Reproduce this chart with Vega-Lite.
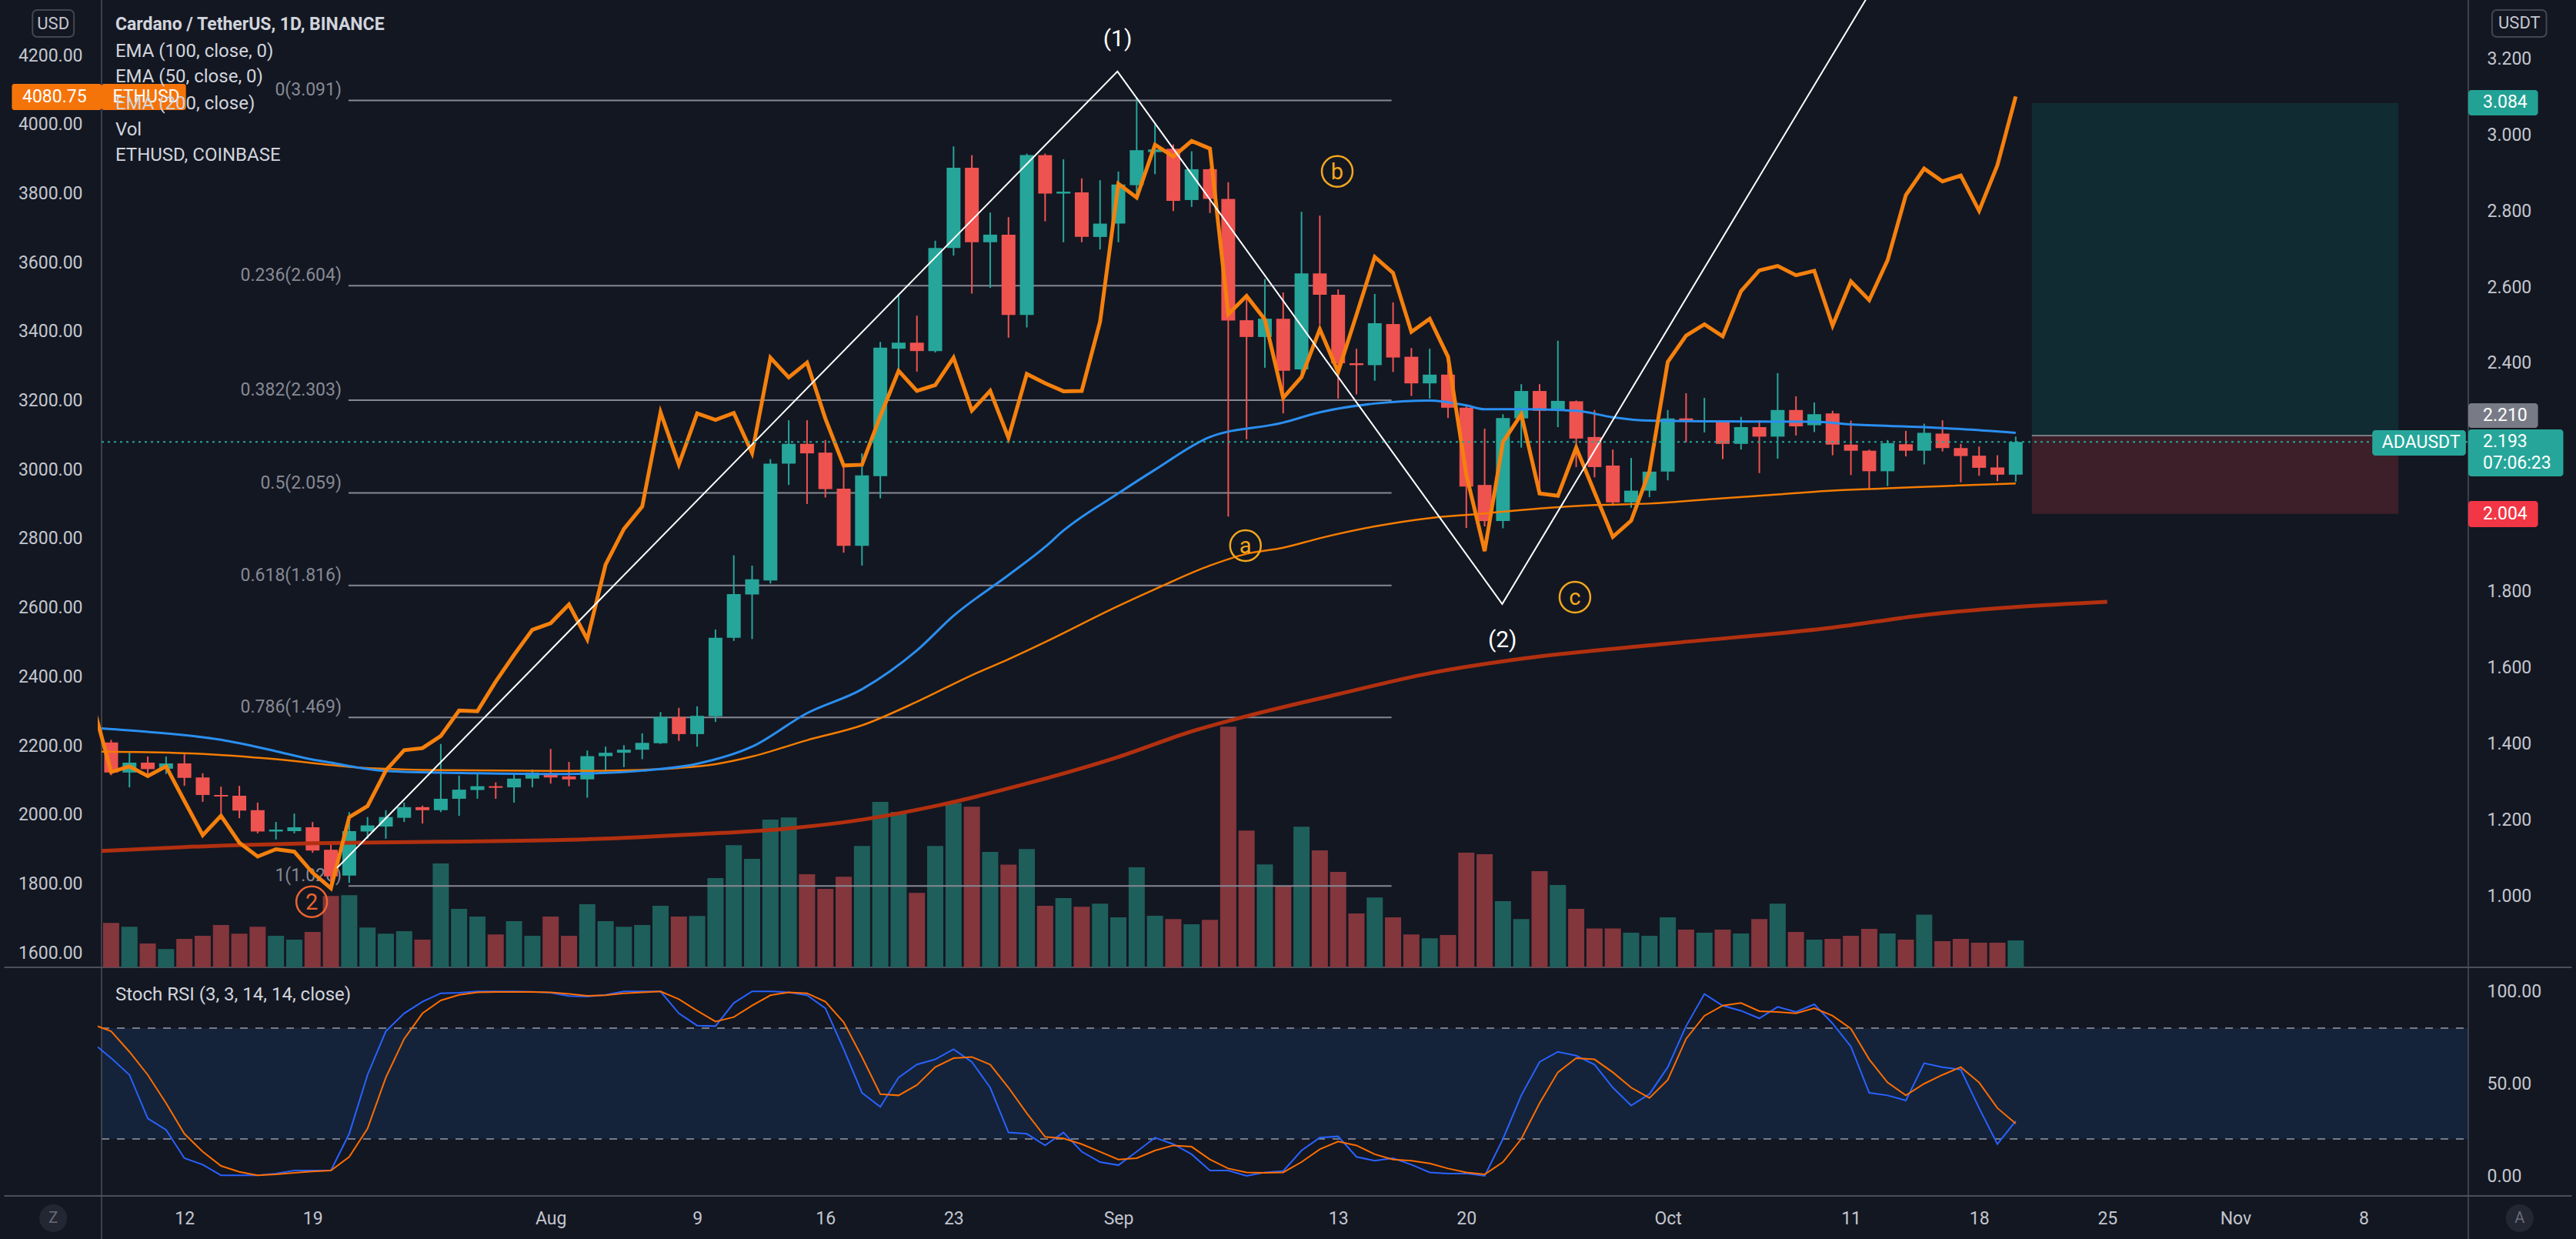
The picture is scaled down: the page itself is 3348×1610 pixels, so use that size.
{
"$schema":"https://vega.github.io/schema/vega-lite/v6.json",
"width":3086,"height":1554,
"autosize":{"type":"none"},
"padding":{"left":127,"top":0,"right":135,"bottom":56},
"background":"#131722",
"config":{"view":{"stroke":null},"font":"Roboto","text":{"font":"Roboto"},"axis":{"labelFont":"Roboto"}},
"datasets":{
"ada":[
{"date":"2021-07-08","o":1.403,"h":1.410,"l":1.317,"c":1.324,"v":289},
{"date":"2021-07-09","o":1.324,"h":1.376,"l":1.285,"c":1.350,"v":264},
{"date":"2021-07-10","o":1.350,"h":1.366,"l":1.318,"c":1.333,"v":155},
{"date":"2021-07-11","o":1.334,"h":1.366,"l":1.320,"c":1.348,"v":119},
{"date":"2021-07-12","o":1.348,"h":1.372,"l":1.289,"c":1.310,"v":185},
{"date":"2021-07-13","o":1.311,"h":1.322,"l":1.247,"c":1.265,"v":205},
{"date":"2021-07-14","o":1.265,"h":1.287,"l":1.216,"c":1.261,"v":275},
{"date":"2021-07-15","o":1.263,"h":1.289,"l":1.204,"c":1.224,"v":219},
{"date":"2021-07-16","o":1.225,"h":1.245,"l":1.164,"c":1.169,"v":264},
{"date":"2021-07-17","o":1.169,"h":1.194,"l":1.148,"c":1.174,"v":205},
{"date":"2021-07-18","o":1.170,"h":1.216,"l":1.164,"c":1.180,"v":180},
{"date":"2021-07-19","o":1.180,"h":1.194,"l":1.113,"c":1.119,"v":230},
{"date":"2021-07-20","o":1.121,"h":1.136,"l":1.026,"c":1.051,"v":464},
{"date":"2021-07-21","o":1.053,"h":1.220,"l":1.034,"c":1.170,"v":469},
{"date":"2021-07-22","o":1.169,"h":1.207,"l":1.150,"c":1.185,"v":259},
{"date":"2021-07-23","o":1.182,"h":1.225,"l":1.150,"c":1.207,"v":219},
{"date":"2021-07-24","o":1.205,"h":1.245,"l":1.194,"c":1.233,"v":235},
{"date":"2021-07-25","o":1.233,"h":1.237,"l":1.190,"c":1.225,"v":180},
{"date":"2021-07-26","o":1.225,"h":1.399,"l":1.220,"c":1.255,"v":675},
{"date":"2021-07-27","o":1.255,"h":1.316,"l":1.210,"c":1.279,"v":380},
{"date":"2021-07-28","o":1.278,"h":1.322,"l":1.255,"c":1.288,"v":330},
{"date":"2021-07-29","o":1.288,"h":1.298,"l":1.255,"c":1.284,"v":214},
{"date":"2021-07-30","o":1.285,"h":1.318,"l":1.245,"c":1.308,"v":300},
{"date":"2021-07-31","o":1.308,"h":1.332,"l":1.285,"c":1.324,"v":205},
{"date":"2021-08-01","o":1.322,"h":1.386,"l":1.295,"c":1.311,"v":330},
{"date":"2021-08-02","o":1.314,"h":1.352,"l":1.288,"c":1.306,"v":205},
{"date":"2021-08-03","o":1.306,"h":1.382,"l":1.258,"c":1.367,"v":410},
{"date":"2021-08-04","o":1.367,"h":1.392,"l":1.322,"c":1.376,"v":300},
{"date":"2021-08-05","o":1.376,"h":1.396,"l":1.338,"c":1.384,"v":264},
{"date":"2021-08-06","o":1.384,"h":1.427,"l":1.359,"c":1.402,"v":275},
{"date":"2021-08-07","o":1.401,"h":1.483,"l":1.399,"c":1.470,"v":400},
{"date":"2021-08-08","o":1.470,"h":1.494,"l":1.407,"c":1.425,"v":330},
{"date":"2021-08-09","o":1.425,"h":1.498,"l":1.392,"c":1.473,"v":334},
{"date":"2021-08-10","o":1.472,"h":1.700,"l":1.457,"c":1.678,"v":580},
{"date":"2021-08-11","o":1.678,"h":1.895,"l":1.670,"c":1.793,"v":794},
{"date":"2021-08-12","o":1.792,"h":1.868,"l":1.675,"c":1.832,"v":705},
{"date":"2021-08-13","o":1.829,"h":2.148,"l":1.821,"c":2.136,"v":960},
{"date":"2021-08-14","o":2.136,"h":2.250,"l":2.080,"c":2.188,"v":974},
{"date":"2021-08-15","o":2.188,"h":2.250,"l":2.030,"c":2.163,"v":605},
{"date":"2021-08-16","o":2.165,"h":2.198,"l":2.047,"c":2.069,"v":510},
{"date":"2021-08-17","o":2.070,"h":2.127,"l":1.902,"c":1.920,"v":589},
{"date":"2021-08-18","o":1.920,"h":2.163,"l":1.868,"c":2.105,"v":789},
{"date":"2021-08-19","o":2.103,"h":2.456,"l":2.045,"c":2.441,"v":1075},
{"date":"2021-08-20","o":2.438,"h":2.583,"l":2.378,"c":2.454,"v":1010},
{"date":"2021-08-21","o":2.454,"h":2.525,"l":2.378,"c":2.432,"v":484},
{"date":"2021-08-22","o":2.432,"h":2.722,"l":2.428,"c":2.703,"v":789},
{"date":"2021-08-23","o":2.703,"h":2.970,"l":2.683,"c":2.914,"v":1067},
{"date":"2021-08-24","o":2.914,"h":2.947,"l":2.583,"c":2.718,"v":1044},
{"date":"2021-08-25","o":2.718,"h":2.796,"l":2.598,"c":2.738,"v":750},
{"date":"2021-08-26","o":2.738,"h":2.784,"l":2.467,"c":2.527,"v":667},
{"date":"2021-08-27","o":2.527,"h":2.951,"l":2.494,"c":2.947,"v":769},
{"date":"2021-08-28","o":2.947,"h":2.951,"l":2.773,"c":2.846,"v":400},
{"date":"2021-08-29","o":2.846,"h":2.936,"l":2.718,"c":2.851,"v":450},
{"date":"2021-08-30","o":2.849,"h":2.886,"l":2.718,"c":2.732,"v":394},
{"date":"2021-08-31","o":2.732,"h":2.881,"l":2.699,"c":2.767,"v":414},
{"date":"2021-09-01","o":2.767,"h":2.904,"l":2.718,"c":2.870,"v":325},
{"date":"2021-09-02","o":2.868,"h":3.098,"l":2.839,"c":2.960,"v":650},
{"date":"2021-09-03","o":2.955,"h":3.030,"l":2.897,"c":2.962,"v":335},
{"date":"2021-09-04","o":2.964,"h":2.975,"l":2.800,"c":2.827,"v":314},
{"date":"2021-09-05","o":2.829,"h":2.957,"l":2.811,"c":2.910,"v":280},
{"date":"2021-09-06","o":2.910,"h":2.912,"l":2.795,"c":2.832,"v":309},
{"date":"2021-09-07","o":2.832,"h":2.876,"l":1.997,"c":2.512,"v":1564},
{"date":"2021-09-08","o":2.513,"h":2.576,"l":2.200,"c":2.469,"v":889},
{"date":"2021-09-09","o":2.469,"h":2.621,"l":2.388,"c":2.517,"v":669},
{"date":"2021-09-10","o":2.517,"h":2.586,"l":2.268,"c":2.380,"v":530},
{"date":"2021-09-11","o":2.384,"h":2.798,"l":2.360,"c":2.636,"v":914},
{"date":"2021-09-12","o":2.636,"h":2.788,"l":2.502,"c":2.580,"v":760},
{"date":"2021-09-13","o":2.580,"h":2.594,"l":2.307,"c":2.400,"v":620},
{"date":"2021-09-14","o":2.400,"h":2.438,"l":2.318,"c":2.395,"v":350},
{"date":"2021-09-15","o":2.395,"h":2.582,"l":2.354,"c":2.505,"v":454},
{"date":"2021-09-16","o":2.503,"h":2.560,"l":2.377,"c":2.415,"v":325},
{"date":"2021-09-17","o":2.417,"h":2.440,"l":2.314,"c":2.347,"v":214},
{"date":"2021-09-18","o":2.347,"h":2.438,"l":2.307,"c":2.370,"v":189},
{"date":"2021-09-19","o":2.370,"h":2.395,"l":2.256,"c":2.283,"v":210},
{"date":"2021-09-20","o":2.283,"h":2.287,"l":1.967,"c":2.076,"v":745},
{"date":"2021-09-21","o":2.080,"h":2.228,"l":1.971,"c":1.985,"v":735},
{"date":"2021-09-22","o":1.985,"h":2.266,"l":1.966,"c":2.256,"v":430},
{"date":"2021-09-23","o":2.255,"h":2.345,"l":2.178,"c":2.327,"v":314},
{"date":"2021-09-24","o":2.327,"h":2.345,"l":2.056,"c":2.275,"v":625},
{"date":"2021-09-25","o":2.275,"h":2.459,"l":2.232,"c":2.301,"v":535},
{"date":"2021-09-26","o":2.300,"h":2.302,"l":2.127,"c":2.202,"v":380},
{"date":"2021-09-27","o":2.206,"h":2.277,"l":2.100,"c":2.127,"v":252},
{"date":"2021-09-28","o":2.131,"h":2.173,"l":2.025,"c":2.034,"v":252},
{"date":"2021-09-29","o":2.034,"h":2.151,"l":2.020,"c":2.065,"v":225},
{"date":"2021-09-30","o":2.065,"h":2.125,"l":2.048,"c":2.115,"v":205},
{"date":"2021-10-01","o":2.115,"h":2.277,"l":2.092,"c":2.255,"v":325},
{"date":"2021-10-02","o":2.255,"h":2.321,"l":2.192,"c":2.246,"v":245},
{"date":"2021-10-03","o":2.246,"h":2.309,"l":2.218,"c":2.250,"v":225},
{"date":"2021-10-04","o":2.248,"h":2.250,"l":2.148,"c":2.188,"v":245},
{"date":"2021-10-05","o":2.188,"h":2.259,"l":2.173,"c":2.232,"v":220},
{"date":"2021-10-06","o":2.232,"h":2.250,"l":2.111,"c":2.207,"v":314},
{"date":"2021-10-07","o":2.207,"h":2.374,"l":2.149,"c":2.277,"v":414},
{"date":"2021-10-08","o":2.277,"h":2.313,"l":2.210,"c":2.234,"v":230},
{"date":"2021-10-09","o":2.237,"h":2.297,"l":2.219,"c":2.266,"v":180},
{"date":"2021-10-10","o":2.268,"h":2.275,"l":2.158,"c":2.186,"v":185},
{"date":"2021-10-11","o":2.186,"h":2.249,"l":2.106,"c":2.170,"v":205},
{"date":"2021-10-12","o":2.170,"h":2.173,"l":2.070,"c":2.116,"v":250},
{"date":"2021-10-13","o":2.116,"h":2.198,"l":2.077,"c":2.190,"v":220},
{"date":"2021-10-14","o":2.187,"h":2.222,"l":2.155,"c":2.170,"v":180},
{"date":"2021-10-15","o":2.170,"h":2.241,"l":2.134,"c":2.217,"v":342},
{"date":"2021-10-16","o":2.215,"h":2.250,"l":2.168,"c":2.177,"v":170},
{"date":"2021-10-17","o":2.177,"h":2.188,"l":2.087,"c":2.156,"v":185},
{"date":"2021-10-18","o":2.157,"h":2.181,"l":2.104,"c":2.125,"v":160},
{"date":"2021-10-19","o":2.126,"h":2.158,"l":2.090,"c":2.107,"v":160},
{"date":"2021-10-20","o":2.107,"h":2.207,"l":2.088,"c":2.193,"v":175}
],
"eth":[
{"date":"2021-07-07","eth":2320},{"date":"2021-07-08","eth":2124},{"date":"2021-07-09","eth":2140},{"date":"2021-07-10","eth":2112},{"date":"2021-07-11","eth":2140},{"date":"2021-07-12","eth":2040},{"date":"2021-07-13","eth":1941},{"date":"2021-07-14","eth":1997},{"date":"2021-07-15","eth":1919},{"date":"2021-07-16","eth":1879},{"date":"2021-07-17","eth":1900},{"date":"2021-07-18","eth":1893},{"date":"2021-07-19","eth":1832},{"date":"2021-07-20","eth":1787},{"date":"2021-07-21","eth":1993},{"date":"2021-07-22","eth":2025},{"date":"2021-07-23","eth":2128},{"date":"2021-07-24","eth":2187},{"date":"2021-07-25","eth":2193},{"date":"2021-07-26","eth":2228},{"date":"2021-07-27","eth":2302},{"date":"2021-07-28","eth":2300},{"date":"2021-07-29","eth":2386},{"date":"2021-07-30","eth":2463},{"date":"2021-07-31","eth":2536},
{"date":"2021-08-01","eth":2555},{"date":"2021-08-02","eth":2609},{"date":"2021-08-03","eth":2508},{"date":"2021-08-04","eth":2725},{"date":"2021-08-05","eth":2828},{"date":"2021-08-06","eth":2893},{"date":"2021-08-07","eth":3166},{"date":"2021-08-08","eth":3015},{"date":"2021-08-09","eth":3163},{"date":"2021-08-10","eth":3144},{"date":"2021-08-11","eth":3164},{"date":"2021-08-12","eth":3048},{"date":"2021-08-13","eth":3324},{"date":"2021-08-14","eth":3267},{"date":"2021-08-15","eth":3310},{"date":"2021-08-16","eth":3148},{"date":"2021-08-17","eth":3012},{"date":"2021-08-18","eth":3014},{"date":"2021-08-19","eth":3155},{"date":"2021-08-20","eth":3286},{"date":"2021-08-21","eth":3228},{"date":"2021-08-22","eth":3245},{"date":"2021-08-23","eth":3324},{"date":"2021-08-24","eth":3171},{"date":"2021-08-25","eth":3228},{"date":"2021-08-26","eth":3092},{"date":"2021-08-27","eth":3277},{"date":"2021-08-28","eth":3250},{"date":"2021-08-29","eth":3227},{"date":"2021-08-30","eth":3228},{"date":"2021-08-31","eth":3428},
{"date":"2021-09-01","eth":3828},{"date":"2021-09-02","eth":3788},{"date":"2021-09-03","eth":3941},{"date":"2021-09-04","eth":3907},{"date":"2021-09-05","eth":3952},{"date":"2021-09-06","eth":3930},{"date":"2021-09-07","eth":3450},{"date":"2021-09-08","eth":3503},{"date":"2021-09-09","eth":3435},{"date":"2021-09-10","eth":3208},{"date":"2021-09-11","eth":3268},{"date":"2021-09-12","eth":3407},{"date":"2021-09-13","eth":3283},{"date":"2021-09-14","eth":3448},{"date":"2021-09-15","eth":3616},{"date":"2021-09-16","eth":3570},{"date":"2021-09-17","eth":3399},{"date":"2021-09-18","eth":3437},{"date":"2021-09-19","eth":3327},{"date":"2021-09-20","eth":2985},{"date":"2021-09-21","eth":2764},{"date":"2021-09-22","eth":3080},{"date":"2021-09-23","eth":3160},{"date":"2021-09-24","eth":2931},{"date":"2021-09-25","eth":2924},{"date":"2021-09-26","eth":3064},{"date":"2021-09-27","eth":2934},{"date":"2021-09-28","eth":2805},{"date":"2021-09-29","eth":2852},{"date":"2021-09-30","eth":2995},
{"date":"2021-10-01","eth":3312},{"date":"2021-10-02","eth":3388},{"date":"2021-10-03","eth":3421},{"date":"2021-10-04","eth":3386},{"date":"2021-10-05","eth":3517},{"date":"2021-10-06","eth":3577},{"date":"2021-10-07","eth":3590},{"date":"2021-10-08","eth":3563},{"date":"2021-10-09","eth":3576},{"date":"2021-10-10","eth":3417},{"date":"2021-10-11","eth":3545},{"date":"2021-10-12","eth":3491},{"date":"2021-10-13","eth":3606},{"date":"2021-10-14","eth":3795},{"date":"2021-10-15","eth":3872},{"date":"2021-10-16","eth":3835},{"date":"2021-10-17","eth":3852},{"date":"2021-10-18","eth":3750},{"date":"2021-10-19","eth":3882},{"date":"2021-10-20","eth":4081}
],
"e50":[
{"date":"2021-07-07T11:27:00Z","v":1.440},{"date":"2021-07-10","v":1.431},{"date":"2021-07-14","v":1.410},{"date":"2021-07-17","v":1.380},{"date":"2021-07-19","v":1.358},{"date":"2021-07-20","v":1.350},{"date":"2021-07-21","v":1.341},{"date":"2021-07-23","v":1.328},{"date":"2021-07-28","v":1.322},{"date":"2021-08-01","v":1.320},{"date":"2021-08-04","v":1.323},{"date":"2021-08-06","v":1.329},{"date":"2021-08-09","v":1.347},{"date":"2021-08-12","v":1.392},{"date":"2021-08-15","v":1.480},{"date":"2021-08-18","v":1.543},{"date":"2021-08-21","v":1.645},{"date":"2021-08-23","v":1.736},{"date":"2021-08-26","v":1.843},{"date":"2021-08-28","v":1.917},{"date":"2021-08-29","v":1.960},{"date":"2021-09-01","v":2.058},{"date":"2021-09-03","v":2.120},{"date":"2021-09-06","v":2.206},{"date":"2021-09-10","v":2.244},{"date":"2021-09-12","v":2.271},{"date":"2021-09-15","v":2.294},{"date":"2021-09-18","v":2.302},{"date":"2021-09-20","v":2.289},{"date":"2021-09-21","v":2.279},{"date":"2021-09-23","v":2.279},{"date":"2021-09-26","v":2.275},{"date":"2021-09-28","v":2.258},{"date":"2021-09-30","v":2.249},{"date":"2021-10-04","v":2.247},{"date":"2021-10-09","v":2.246},{"date":"2021-10-11","v":2.239},{"date":"2021-10-15","v":2.232},{"date":"2021-10-17","v":2.227},{"date":"2021-10-20","v":2.217}
],
"e100":[
{"date":"2021-07-07T11:27:00Z","v":1.379},{"date":"2021-07-12","v":1.375},{"date":"2021-07-17","v":1.359},{"date":"2021-07-21","v":1.339},{"date":"2021-07-25","v":1.331},{"date":"2021-08-01","v":1.328},{"date":"2021-08-05","v":1.330},{"date":"2021-08-08","v":1.336},{"date":"2021-08-10","v":1.346},{"date":"2021-08-12","v":1.366},{"date":"2021-08-15","v":1.409},{"date":"2021-08-18","v":1.448},{"date":"2021-08-21","v":1.510},{"date":"2021-08-24","v":1.580},{"date":"2021-08-26","v":1.622},{"date":"2021-08-28","v":1.667},{"date":"2021-09-01","v":1.762},{"date":"2021-09-03","v":1.806},{"date":"2021-09-06","v":1.868},{"date":"2021-09-08","v":1.899},{"date":"2021-09-10","v":1.915},{"date":"2021-09-12","v":1.940},{"date":"2021-09-15","v":1.971},{"date":"2021-09-18","v":1.993},{"date":"2021-09-21","v":2.005},{"date":"2021-09-24","v":2.018},{"date":"2021-09-27","v":2.027},{"date":"2021-09-30","v":2.031},{"date":"2021-10-04","v":2.045},{"date":"2021-10-07","v":2.055},{"date":"2021-10-10","v":2.065},{"date":"2021-10-13","v":2.071},{"date":"2021-10-16","v":2.077},{"date":"2021-10-20","v":2.084}
],
"e200":[
{"date":"2021-07-07T11:27:00Z","v":1.118},{"date":"2021-07-12","v":1.128},{"date":"2021-07-19","v":1.138},{"date":"2021-07-26","v":1.142},{"date":"2021-08-02","v":1.147},{"date":"2021-08-09","v":1.162},{"date":"2021-08-14","v":1.177},{"date":"2021-08-18","v":1.200},{"date":"2021-08-22","v":1.236},{"date":"2021-08-27","v":1.295},{"date":"2021-09-01","v":1.365},{"date":"2021-09-05","v":1.432},{"date":"2021-09-08","v":1.472},{"date":"2021-09-13","v":1.530},{"date":"2021-09-18","v":1.585},{"date":"2021-09-23","v":1.623},{"date":"2021-10-01","v":1.663},{"date":"2021-10-10","v":1.705},{"date":"2021-10-15","v":1.738},{"date":"2021-10-25","v":1.773}
],
"stoch":[
{"date":"2021-07-07","k":72,"d":82},{"date":"2021-07-08","k":63.8,"d":78.3},{"date":"2021-07-09","k":54.7,"d":67.2},{"date":"2021-07-10","k":31.1,"d":54.7},{"date":"2021-07-11","k":24.9,"d":39.4},{"date":"2021-07-12","k":9.6,"d":22.8},{"date":"2021-07-13","k":6.1,"d":13.1},{"date":"2021-07-14","k":0.3,"d":5.4},{"date":"2021-07-15","k":0.3,"d":2.2},{"date":"2021-07-16","k":0.3,"d":0.3},{"date":"2021-07-17","k":1.3,"d":0.8},{"date":"2021-07-18","k":2.9,"d":1.7},{"date":"2021-07-19","k":2.9,"d":2.4},{"date":"2021-07-20","k":2.9,"d":2.9},{"date":"2021-07-21","k":22.8,"d":10.3},{"date":"2021-07-22","k":54.7,"d":25.6},{"date":"2021-07-23","k":78.3,"d":53.3},{"date":"2021-07-24","k":88,"d":74.2},{"date":"2021-07-25","k":94.3,"d":88},{"date":"2021-07-26","k":98.9,"d":95},{"date":"2021-07-27","k":99.2,"d":98},{"date":"2021-07-28","k":99.9,"d":99.4},{"date":"2021-07-29","k":99.9,"d":99.6},{"date":"2021-07-30","k":99.9,"d":99.6},{"date":"2021-07-31","k":99.7,"d":99.6},
{"date":"2021-08-01","k":99.2,"d":99.4},{"date":"2021-08-02","k":97.4,"d":98.5},{"date":"2021-08-03","k":97.1,"d":97.5},{"date":"2021-08-04","k":98,"d":97.8},{"date":"2021-08-05","k":99.9,"d":98.9},{"date":"2021-08-06","k":99.9,"d":99.4},{"date":"2021-08-07","k":99.9,"d":99.9},{"date":"2021-08-08","k":88,"d":95.7},{"date":"2021-08-09","k":81.4,"d":89.4},{"date":"2021-08-10","k":81.1,"d":83.6},{"date":"2021-08-11","k":93.6,"d":86},{"date":"2021-08-12","k":99.9,"d":92.2},{"date":"2021-08-13","k":99.9,"d":97.8},{"date":"2021-08-14","k":99.4,"d":99.4},{"date":"2021-08-15","k":97.8,"d":98.9},{"date":"2021-08-16","k":90.8,"d":94.3},{"date":"2021-08-17","k":68.6,"d":83.2},{"date":"2021-08-18","k":45,"d":64.4},{"date":"2021-08-19","k":37.4,"d":44.3},{"date":"2021-08-20","k":53.3,"d":43.6},{"date":"2021-08-21","k":60.3,"d":49.2},{"date":"2021-08-22","k":63.1,"d":58.9},{"date":"2021-08-23","k":68.6,"d":63.75},{"date":"2021-08-24","k":61.7,"d":64.4},{"date":"2021-08-25","k":47.8,"d":60.3},{"date":"2021-08-26","k":23.5,"d":47.8},{"date":"2021-08-27","k":22.8,"d":33.9},{"date":"2021-08-28","k":16.5,"d":21.1},{"date":"2021-08-29","k":23.5,"d":20.3},{"date":"2021-08-30","k":13.1,"d":17.2},{"date":"2021-08-31","k":7.5,"d":13.1},
{"date":"2021-09-01","k":5.8,"d":8.9},{"date":"2021-09-02","k":13.1,"d":9.6},{"date":"2021-09-03","k":20.7,"d":13.75},{"date":"2021-09-04","k":17.2,"d":16.5},{"date":"2021-09-05","k":11.7,"d":15.8},{"date":"2021-09-06","k":2.9,"d":8.9},{"date":"2021-09-07","k":2.9,"d":4},{"date":"2021-09-08","k":0,"d":1.9},{"date":"2021-09-09","k":1.9,"d":1.7},{"date":"2021-09-10","k":2.6,"d":1.9},{"date":"2021-09-11","k":13.75,"d":7.5},{"date":"2021-09-12","k":20.7,"d":14.4},{"date":"2021-09-13","k":21.4,"d":18.6},{"date":"2021-09-14","k":10.3,"d":16.5},{"date":"2021-09-15","k":8.2,"d":11.7},{"date":"2021-09-16","k":9.6,"d":8.9},{"date":"2021-09-17","k":6.1,"d":8.2},{"date":"2021-09-18","k":1.9,"d":6.8},{"date":"2021-09-19","k":1.3,"d":4},{"date":"2021-09-20","k":1.3,"d":1.9},{"date":"2021-09-21","k":0,"d":0.8},{"date":"2021-09-22","k":20,"d":7.5},{"date":"2021-09-23","k":43.6,"d":20},{"date":"2021-09-24","k":61.7,"d":39.4},{"date":"2021-09-25","k":67.2,"d":56.1},{"date":"2021-09-26","k":65.1,"d":63.75},{"date":"2021-09-27","k":60.3,"d":63.1},{"date":"2021-09-28","k":47.8,"d":56.1},{"date":"2021-09-29","k":38.1,"d":47.8},{"date":"2021-09-30","k":44.3,"d":42.2},
{"date":"2021-10-01","k":58.9,"d":52},{"date":"2021-10-02","k":81.1,"d":74.2},{"date":"2021-10-03","k":98.5,"d":86.7},{"date":"2021-10-04","k":92.2,"d":92.2},{"date":"2021-10-05","k":89.4,"d":93.6},{"date":"2021-10-06","k":85.3,"d":89.2},{"date":"2021-10-07","k":91.5,"d":88.75},{"date":"2021-10-08","k":88.75,"d":88},{"date":"2021-10-09","k":92.9,"d":90.8},{"date":"2021-10-10","k":82.5,"d":86.7},{"date":"2021-10-11","k":70,"d":79.7},{"date":"2021-10-12","k":45,"d":63.1},{"date":"2021-10-13","k":43.6,"d":50.6},{"date":"2021-10-14","k":40.8,"d":43.6},{"date":"2021-10-15","k":61,"d":49.9},{"date":"2021-10-16","k":58.9,"d":54.7},{"date":"2021-10-17","k":57.5,"d":58.9},{"date":"2021-10-18","k":36.7,"d":50.6},{"date":"2021-10-19","k":17.2,"d":36.7},{"date":"2021-10-20","k":29.7,"d":28.3}
],
"fib":[
{"date":"2021-07-20T23:05:00Z","date2":"2021-09-15T22:00:00Z","price":3.091},
{"date":"2021-07-20T23:05:00Z","date2":"2021-09-15T22:00:00Z","price":2.604},
{"date":"2021-07-20T23:05:00Z","date2":"2021-09-15T22:00:00Z","price":2.303},
{"date":"2021-07-20T23:05:00Z","date2":"2021-09-15T22:00:00Z","price":2.059},
{"date":"2021-07-20T23:05:00Z","date2":"2021-09-15T22:00:00Z","price":1.816},
{"date":"2021-07-20T23:05:00Z","date2":"2021-09-15T22:00:00Z","price":1.469},
{"date":"2021-07-20T23:05:00Z","date2":"2021-09-15T22:00:00Z","price":1.026}
],
"fibLabels":[
{"date":"2021-07-20T14:02:00Z","price":3.091,"label":"0(3.091)"},
{"date":"2021-07-20T14:02:00Z","price":2.604,"label":"0.236(2.604)"},
{"date":"2021-07-20T14:02:00Z","price":2.303,"label":"0.382(2.303)"},
{"date":"2021-07-20T14:02:00Z","price":2.059,"label":"0.5(2.059)"},
{"date":"2021-07-20T14:02:00Z","price":1.816,"label":"0.618(1.816)"},
{"date":"2021-07-20T14:02:00Z","price":1.469,"label":"0.786(1.469)"},
{"date":"2021-07-20T14:02:00Z","price":1.026,"label":"1(1.026)"}
],
"legend":[
{"date":"2021-07-08T05:32:00Z","price":3.2895,"row":0,"label":"Cardano / TetherUS, 1D, BINANCE"},
{"date":"2021-07-08T05:32:00Z","price":3.220,"row":1,"label":"EMA (100, close, 0)"},
{"date":"2021-07-08T05:32:00Z","price":3.1525,"row":2,"label":"EMA (50, close, 0)"},
{"date":"2021-07-08T05:32:00Z","price":3.0817,"row":3,"label":"EMA (200, close)"},
{"date":"2021-07-08T05:32:00Z","price":3.0123,"row":4,"label":"Vol"},
{"date":"2021-07-08T05:32:00Z","price":2.9468,"row":5,"label":"ETHUSD, COINBASE"}
]
},
"encoding":{"x":{"field":"date","type":"temporal",
 "scale":{"type":"utc","domain":[{"year":2021,"month":"jul","date":7,"hours":11,"minutes":27,"utc":true},{"year":2021,"month":"nov","date":13,"hours":17,"minutes":5,"utc":true}]},
 "axis":{"values":[{"year":2021,"month":"jul","date":12,"utc":true},{"year":2021,"month":"jul","date":19,"utc":true},{"year":2021,"month":"aug","date":1,"utc":true},{"year":2021,"month":"aug","date":9,"utc":true},{"year":2021,"month":"aug","date":16,"utc":true},{"year":2021,"month":"aug","date":23,"utc":true},{"year":2021,"month":"sep","date":1,"utc":true},{"year":2021,"month":"sep","date":13,"utc":true},{"year":2021,"month":"sep","date":20,"utc":true},{"year":2021,"month":"oct","date":1,"utc":true},{"year":2021,"month":"oct","date":11,"utc":true},{"year":2021,"month":"oct","date":18,"utc":true},{"year":2021,"month":"oct","date":25,"utc":true},{"year":2021,"month":"nov","date":1,"utc":true},{"year":2021,"month":"nov","date":8,"utc":true}],
 "labelExpr":"utcdate(datum.value) == 1 ? utcFormat(datum.value, '%b') : utcFormat(datum.value, '%-d')",
 "labelFontSize":23,"labelColor":"#c3c6ce","ticks":false,"domain":false,"grid":false,"title":null,"labelPadding":29,"labelBaseline":"middle","labelOverlap":false,"labelFlush":false}}},
"layer":[
{"data":{"values":[{"date":"2021-07-07T11:27:00Z","date2":"2021-11-13T17:05:00Z","lo":20,"hi":80}]},
 "mark":{"type":"rect","color":"#14233a"},
 "encoding":{"x2":{"field":"date2"},"y":{"field":"lo","type":"quantitative","scale":{"domain":[-10.833,636.667],"nice":false,"zero":false},"axis":null},"y2":{"field":"hi"}}},
{"data":{"values":[{"date":"2021-07-07T11:27:00Z","date2":"2021-11-13T17:05:00Z","s":20},{"date":"2021-07-07T11:27:00Z","date2":"2021-11-13T17:05:00Z","s":80}]},
 "mark":{"type":"rule","color":"#787b86","strokeWidth":2,"strokeDash":[10,10]},
 "encoding":{"x2":{"field":"date2"},"y":{"field":"s","type":"quantitative","scale":{"domain":[-10.833,636.667],"nice":false,"zero":false},"axis":null}}},
{"data":{"values":[{"date":"2021-07-02T03:49:00Z","date2":"2021-11-19T08:46:00Z","s":112.92},{"date":"2021-07-02T03:49:00Z","date2":"2021-11-19T08:46:00Z","s":-10.833}]},
 "mark":{"type":"rule","color":"#4c4f5a","strokeWidth":2},
 "encoding":{"x2":{"field":"date2"},"y":{"field":"s","type":"quantitative","scale":{"domain":[-10.833,636.667],"nice":false,"zero":false},"axis":null}}},
{"data":{"values":[{"date":"2021-07-07T11:27:00Z","s1":636.667,"s2":-34.17},{"date":"2021-11-13T17:05:00Z","s1":636.667,"s2":-34.17}]},
 "mark":{"type":"rule","color":"#4c4f5a","strokeWidth":1.5},
 "encoding":{"y":{"field":"s1","type":"quantitative","scale":{"domain":[-10.833,636.667],"nice":false,"zero":false},"axis":null},"y2":{"field":"s2"}}},
{"data":{"values":[{"date":"2021-10-20T21:07:00Z","date2":"2021-11-09T21:36:00Z","top":3.084,"bottom":2.21,"kind":"profit"},{"date":"2021-10-20T21:07:00Z","date2":"2021-11-09T21:36:00Z","top":2.21,"bottom":2.004,"kind":"loss"}]},
 "mark":{"type":"rect"},
 "encoding":{"x2":{"field":"date2"},"y":{"field":"top","type":"quantitative","scale":{"domain":[0.21101,3.35484],"nice":false,"zero":false},"axis":null},"y2":{"field":"bottom"},
  "color":{"field":"kind","type":"nominal","scale":{"domain":["profit","loss"],"range":["#112b32","#3c1f28"]},"legend":null}}},
{"data":{"values":[{"date":"2021-10-20T21:07:00Z","date2":"2021-11-09T21:36:00Z","price":2.21}]},
 "mark":{"type":"rule","color":"#787b86","strokeWidth":2},
 "encoding":{"x2":{"field":"date2"},"y":{"field":"price","type":"quantitative","scale":{"domain":[0.21101,3.35484],"nice":false,"zero":false},"axis":null}}},
{"data":{"name":"ada"},
 "mark":{"type":"bar","width":21},
 "encoding":{"y":{"field":"v","type":"quantitative","scale":{"domain":[-1485,6285],"nice":false,"zero":false},"axis":null},"y2":{"datum":0},
  "color":{"condition":{"test":"datum.c >= datum.o","value":"#1e5f5b"},"value":"#83363c"}}},
{"data":{"name":"fib"},
 "mark":{"type":"rule","color":"#868993","strokeWidth":2},
 "encoding":{"x2":{"field":"date2"},"y":{"field":"price","type":"quantitative","scale":{"domain":[0.21101,3.35484],"nice":false,"zero":false},"axis":null}}},
{"data":{"name":"fibLabels"},
 "mark":{"type":"text","align":"right","baseline":"alphabetic","dy":-6,"fontSize":23,"color":"#868993"},
 "encoding":{"y":{"field":"price","type":"quantitative","scale":{"domain":[0.21101,3.35484],"nice":false,"zero":false},"axis":null},"text":{"field":"label"}}},
{"data":{"name":"ada"},
 "mark":{"type":"rule","strokeWidth":2},
 "encoding":{"y":{"field":"l","type":"quantitative","scale":{"domain":[0.21101,3.35484],"nice":false,"zero":false},"axis":null},"y2":{"field":"h"},
  "color":{"condition":{"test":"datum.c >= datum.o","value":"#26a69a"},"value":"#ef5350"}}},
{"data":{"name":"ada"},
 "mark":{"type":"bar","width":18},
 "encoding":{"y":{"field":"o","type":"quantitative","scale":{"domain":[0.21101,3.35484],"nice":false,"zero":false},
   "axis":{"orient":"right","values":[1,1.2,1.4,1.6,1.8,2,2.2,2.4,2.6,2.8,3,3.2],"format":".3f","labelFontSize":23,"labelColor":"#c3c6ce","labelPadding":19,"ticks":false,"domain":false,"grid":false,"title":null,"labelOverlap":false}},
  "y2":{"field":"c"},
  "color":{"condition":{"test":"datum.c >= datum.o","value":"#26a69a"},"value":"#ef5350"}}},
{"data":{"name":"e200"},
 "mark":{"type":"line","color":"#b2300f","strokeWidth":5,"interpolate":"monotone","clip":true},
 "encoding":{"y":{"field":"v","type":"quantitative","scale":{"domain":[0.21101,3.35484],"nice":false,"zero":false},"axis":null}}},
{"data":{"name":"e100"},
 "mark":{"type":"line","color":"#f57c00","strokeWidth":2.5,"interpolate":"monotone","clip":true},
 "encoding":{"y":{"field":"v","type":"quantitative","scale":{"domain":[0.21101,3.35484],"nice":false,"zero":false},"axis":null}}},
{"data":{"name":"e50"},
 "mark":{"type":"line","color":"#2a8ff0","strokeWidth":3,"interpolate":"monotone","clip":true},
 "encoding":{"y":{"field":"v","type":"quantitative","scale":{"domain":[0.21101,3.35484],"nice":false,"zero":false},"axis":null}}},
{"data":{"name":"eth"},
 "mark":{"type":"line","color":"#f5800d","strokeWidth":5,"clip":true,"strokeJoin":"miter"},
 "encoding":{"y":{"field":"eth","type":"quantitative","scale":{"domain":[895.65,4360.54],"nice":false,"zero":false},
   "axis":{"orient":"left","values":[1600,1800,2000,2200,2400,2600,2800,3000,3200,3400,3600,3800,4000,4200],"format":".2f","labelFontSize":23,"labelColor":"#c3c6ce","labelPadding":20,"ticks":false,"domain":false,"grid":false,"title":null,"labelOverlap":false}}}},
{"data":{"values":[{"date":"2021-07-20T08:00:00Z","price":1.073},{"date":"2021-08-31T22:48:00Z","price":3.167},{"date":"2021-09-21T23:02:00Z","price":1.767},{"date":"2021-10-14T20:24:00Z","price":3.599}]},
 "mark":{"type":"line","color":"#ffffff","strokeWidth":2},
 "encoding":{"y":{"field":"price","type":"quantitative","scale":{"domain":[0.21101,3.35484],"nice":false,"zero":false},"axis":null}}},
{"data":{"values":[{"date":"2021-07-07T11:27:00Z","date2":"2021-11-13T17:05:00Z","price":2.193}]},
 "mark":{"type":"rule","color":"#26a69a","strokeWidth":2,"strokeDash":[3,5]},
 "encoding":{"x2":{"field":"date2"},"y":{"field":"price","type":"quantitative","scale":{"domain":[0.21101,3.35484],"nice":false,"zero":false},"axis":null}}},
{"data":{"values":[{"date":"2021-09-07T22:33:00Z","price":1.9205,"label":"a","kind":"abc"},{"date":"2021-09-12T22:48:00Z","price":2.9043,"label":"b","kind":"abc"},{"date":"2021-09-25T22:20:00Z","price":1.785,"label":"c","kind":"abc"},{"date":"2021-07-18T22:51:00Z","price":0.9844,"label":"2","kind":"wave"}]},
 "layer":[
  {"mark":{"type":"point","shape":"circle","filled":false,"size":1600,"strokeWidth":2.5,"opacity":1},
   "encoding":{"y":{"field":"price","type":"quantitative","scale":{"domain":[0.21101,3.35484],"nice":false,"zero":false},"axis":null},
    "color":{"field":"kind","type":"nominal","scale":{"domain":["abc","wave"],"range":["#f2a81d","#ec6330"]},"legend":null}}},
  {"mark":{"type":"text","fontSize":29,"baseline":"middle","dy":1},
   "encoding":{"y":{"field":"price","type":"quantitative","scale":{"domain":[0.21101,3.35484],"nice":false,"zero":false},"axis":null},"text":{"field":"label"},
    "color":{"field":"kind","type":"nominal","scale":{"domain":["abc","wave"],"range":["#f2a81d","#ec6330"]},"legend":null}}}
 ]},
{"data":{"values":[{"date":"2021-08-31T23:00:00Z","price":3.2513,"label":"(1)"},{"date":"2021-09-21T23:17:00Z","price":1.6723,"label":"(2)"}]},
 "mark":{"type":"text","fontSize":30,"color":"#ffffff","baseline":"middle"},
 "encoding":{"y":{"field":"price","type":"quantitative","scale":{"domain":[0.21101,3.35484],"nice":false,"zero":false},"axis":null},"text":{"field":"label"}}},
{"data":{"values":[
  {"date":"2021-11-13T17:05:00Z","date2":"2021-11-17T12:28:00Z","top":3.1182,"bottom":3.0514,"kind":"target"},
  {"date":"2021-11-13T17:05:00Z","date2":"2021-11-17T12:28:00Z","top":2.2948,"bottom":2.2300,"kind":"entry"},
  {"date":"2021-11-13T17:05:00Z","date2":"2021-11-18T21:36:00Z","top":2.226,"bottom":2.1026,"kind":"last"},
  {"date":"2021-11-13T17:05:00Z","date2":"2021-11-17T12:28:00Z","top":2.0378,"bottom":1.969,"kind":"stop"},
  {"date":"2021-11-08T11:17:00Z","date2":"2021-11-13T13:55:00Z","top":2.224,"bottom":2.157,"kind":"last"}]},
 "mark":{"type":"rect","cornerRadius":4},
 "encoding":{"x2":{"field":"date2"},"y":{"field":"top","type":"quantitative","scale":{"domain":[0.21101,3.35484],"nice":false,"zero":false},"axis":null},"y2":{"field":"bottom"},
  "color":{"field":"kind","type":"nominal","scale":{"domain":["target","entry","last","stop"],"range":["#22a195","#787b86","#26a69a","#f23645"]},"legend":null}}},
{"data":{"values":[
  {"date":"2021-11-14T12:14:00Z","price":3.0848,"label":"3.084"},
  {"date":"2021-11-14T12:14:00Z","price":2.2624,"label":"2.210"},
  {"date":"2021-11-14T12:14:00Z","price":2.193,"label":"2.193"},
  {"date":"2021-11-14T12:14:00Z","price":2.137,"label":"07:06:23"},
  {"date":"2021-11-14T12:14:00Z","price":2.0034,"label":"2.004"},
  {"date":"2021-11-09T00:00:00Z","price":2.1906,"label":"ADAUSDT"}]},
 "mark":{"type":"text","align":"left","baseline":"middle","fontSize":23,"color":"#ffffff"},
 "encoding":{"y":{"field":"price","type":"quantitative","scale":{"domain":[0.21101,3.35484],"nice":false,"zero":false},"axis":null},"text":{"field":"label"}}},
{"data":{"values":[{"date":"2021-07-02T13:55:00Z","date2":"2021-07-07T11:27:00Z","top":4117.5,"bottom":4041.7},{"date":"2021-07-07T11:27:00Z","date2":"2021-07-12T02:00:00Z","top":4117.5,"bottom":4041.7}]},
 "mark":{"type":"rect","color":"#f5740a","cornerRadius":3},
 "encoding":{"x2":{"field":"date2"},"y":{"field":"top","type":"quantitative","scale":{"domain":[895.65,4360.54],"nice":false,"zero":false},"axis":null},"y2":{"field":"bottom"}}},
{"data":{"values":[{"date":"2021-07-03T03:36:00Z","eth":4080,"label":"4080.75"},{"date":"2021-07-08T02:10:00Z","eth":4080,"label":"ETHUSD"}]},
 "mark":{"type":"text","align":"left","baseline":"middle","fontSize":23,"color":"#ffffff"},
 "encoding":{"y":{"field":"eth","type":"quantitative","scale":{"domain":[895.65,4360.54],"nice":false,"zero":false},"axis":null},"text":{"field":"label"}}},
{"data":{"values":[{"date":"2021-07-03T17:00:00Z","date2":"2021-07-05T23:17:00Z","top":4331.5,"bottom":4253.5}]},
 "mark":{"type":"rect","fill":"#131722","stroke":"#434651","strokeWidth":2,"cornerRadius":6},
 "encoding":{"x2":{"field":"date2"},"y":{"field":"top","type":"quantitative","scale":{"domain":[895.65,4360.54],"nice":false,"zero":false},"axis":null},"y2":{"field":"bottom"}}},
{"data":{"values":[{"date":"2021-07-04T20:08:00Z","eth":4292.5,"label":"USD"}]},
 "mark":{"type":"text","align":"center","baseline":"middle","fontSize":22,"color":"#c3c6ce"},
 "encoding":{"y":{"field":"eth","type":"quantitative","scale":{"domain":[895.65,4360.54],"nice":false,"zero":false},"axis":null},"text":{"field":"label"}}},
{"data":{"values":[{"date":"2021-11-15T00:14:00Z","date2":"2021-11-17T23:31:00Z","top":3.3286,"bottom":3.2578}]},
 "mark":{"type":"rect","fill":"#131722","stroke":"#434651","strokeWidth":2,"cornerRadius":6},
 "encoding":{"x2":{"field":"date2"},"y":{"field":"top","type":"quantitative","scale":{"domain":[0.21101,3.35484],"nice":false,"zero":false},"axis":null},"y2":{"field":"bottom"}}},
{"data":{"values":[{"date":"2021-11-16T12:00:00Z","price":3.2932,"label":"USDT"}]},
 "mark":{"type":"text","align":"center","baseline":"middle","fontSize":22,"color":"#c3c6ce"},
 "encoding":{"y":{"field":"price","type":"quantitative","scale":{"domain":[0.21101,3.35484],"nice":false,"zero":false},"axis":null},"text":{"field":"label"}}},
{"data":{"name":"legend"},
 "transform":[{"filter":"datum.row == 0"}],
 "mark":{"type":"text","align":"left","baseline":"middle","fontSize":23,"fontWeight":"bold","color":"#d1d4dc"},
 "encoding":{"y":{"field":"price","type":"quantitative","scale":{"domain":[0.21101,3.35484],"nice":false,"zero":false},"axis":null},"text":{"field":"label"}}},
{"data":{"name":"legend"},
 "transform":[{"filter":"datum.row > 0"}],
 "mark":{"type":"text","align":"left","baseline":"middle","fontSize":24,"color":"#d1d4dc"},
 "encoding":{"y":{"field":"price","type":"quantitative","scale":{"domain":[0.21101,3.35484],"nice":false,"zero":false},"axis":null},"text":{"field":"label"}}},
{"data":{"values":[{"date":"2021-07-08T05:32:00Z","s":97.9,"label":"Stoch RSI (3, 3, 14, 14, close)"}]},
 "mark":{"type":"text","align":"left","baseline":"middle","fontSize":24,"color":"#d1d4dc"},
 "encoding":{"y":{"field":"s","type":"quantitative","scale":{"domain":[-10.833,636.667],"nice":false,"zero":false},"axis":null},"text":{"field":"label"}}},
{"data":{"name":"stoch"},
 "mark":{"type":"line","color":"#2962ff","strokeWidth":2,"clip":true},
 "encoding":{"y":{"field":"k","type":"quantitative","scale":{"domain":[-10.833,636.667],"nice":false,"zero":false},
  "axis":{"orient":"right","values":[0,50,100],"format":".2f","labelFontSize":23,"labelColor":"#c3c6ce","labelPadding":19,"ticks":false,"domain":false,"grid":false,"title":null,"labelOverlap":false}}}},
{"data":{"name":"stoch"},
 "mark":{"type":"line","color":"#ff6d00","strokeWidth":2,"clip":true},
 "encoding":{"y":{"field":"d","type":"quantitative","scale":{"domain":[-10.833,636.667],"nice":false,"zero":false},"axis":null}}},
{"data":{"values":[{"date":"2021-07-04T20:08:00Z","s":-22.9,"label":"Z"},{"date":"2021-11-16T12:28:00Z","s":-22.9,"label":"A"}]},
 "layer":[
  {"mark":{"type":"point","shape":"circle","filled":true,"size":1300,"color":"#232733","opacity":1},
   "encoding":{"y":{"field":"s","type":"quantitative","scale":{"domain":[-10.833,636.667],"nice":false,"zero":false},"axis":null}}},
  {"mark":{"type":"text","fontSize":20,"color":"#6a6d78","baseline":"middle"},
   "encoding":{"y":{"field":"s","type":"quantitative","scale":{"domain":[-10.833,636.667],"nice":false,"zero":false},"axis":null},"text":{"field":"label"}}}
 ]}
],
"resolve":{"scale":{"y":"independent","color":"independent"},"axis":{"y":"independent"}}
}
